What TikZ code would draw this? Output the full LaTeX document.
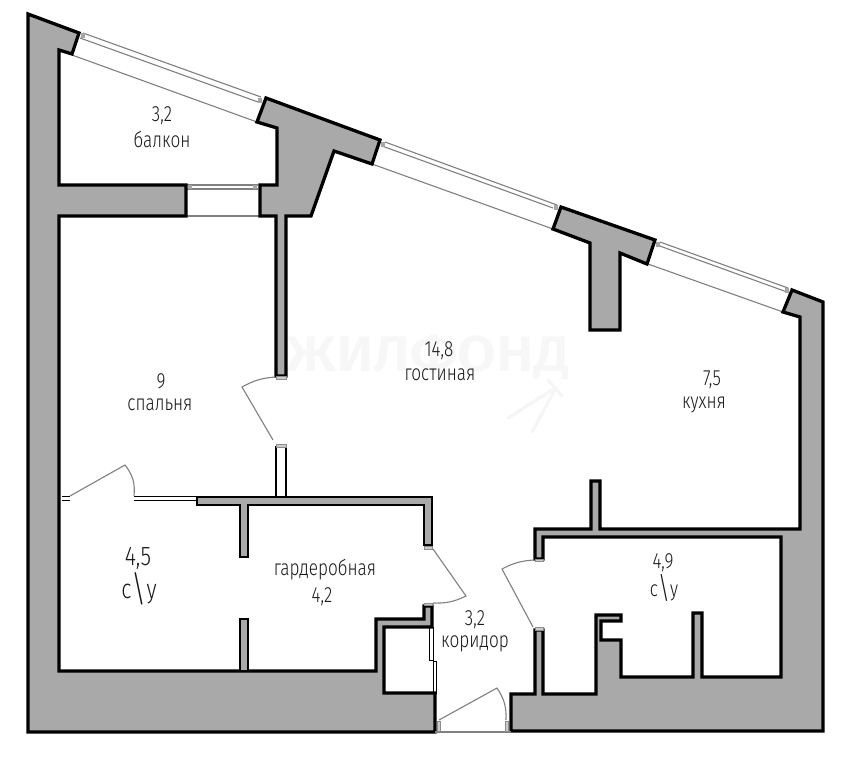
\documentclass[tikz,border=0pt]{standalone}
\usepackage{fontspec}
\setmainfont[UprightFont={* Light}]{Fira Sans}
\definecolor{wallgrey}{HTML}{A9A9A9}
\tikzset{
  wall/.style={draw=black,fill=wallgrey,line width=3.3pt,line join=miter},
  thinwall/.style={draw=black,fill=wallgrey,line width=2.8pt,line join=miter},
  opening/.style={draw=black!50,line width=1.1pt},
  fine/.style={draw=black,line width=.9pt},
  jamb/.style={draw=black!45,fill=black!20,line width=.8pt},
  lab/.style={text=black!90,font=\fontsize{22}{24}\selectfont,xscale=.78,inner sep=0pt},
  biglab/.style={text=black!90,font=\fontsize{27}{29}\selectfont,xscale=.8,inner sep=0pt}
}
\newcommand{\bigslash}[1]{\raisebox{-.1em}{\fontsize{#1}{#1}\selectfont\textbackslash}}
\begin{document}
\begin{tikzpicture}[x=1pt,y=-1pt]
\useasboundingbox (0,0) rectangle (859,768);
\fill[white] (0,0) rectangle (859,768);
% watermark
\node[inner sep=0pt,text=black!3,font=\fontsize{50}{52}\selectfont\bfseries,xscale=1.12] (wm) at (428,357) {ЖИЛФОНД};
\draw[black!4,line width=3pt,line cap=round] (508,418) -- (552,390) (532,432) -- (556,388) (548,380) -- (562,396);
% windows
\foreach \a/\b/\c/\d in {83/33/261/97, 80/38/258/102, 385/142/557/205, 382/146/553/208, 660/242/788/288, 657/245/787/292}
  \draw[opening] (\a,\b) -- (\c,\d);
\foreach \a/\b/\c/\d in {72/55/257/122, 372/164/553/229, 648/264/783/312}
  \draw[opening] (\a,\b) -- (\c,\d);
\draw[opening] (187,185) -- (258,185) (187,189) -- (258,189);
\draw[opening] (186,216) -- (260,216);
\foreach \x/\y in {83/36, 260/100, 383/144, 556/207, 658/244, 787/290}
  \fill[black!35] (\x-2,\y-2.5) rectangle (\x+2,\y+2.5);
\foreach \x in {190,255}
  \fill[black!35] (\x-2,185) rectangle (\x+2,189);
% outer walls
\path[wall] (28,14) -- (79,33) -- (72,54) -- (59,50) -- (59,185) -- (186,185) -- (186,216) -- (59,216)
  -- (59,671) -- (376,671) -- (376,619) -- (424,619) -- (424,606) -- (432,606) -- (432,627) -- (384,627)
  -- (384,693) -- (435,693) -- (435,732) -- (28,732) -- cycle;
\path[wall] (511,731) -- (511,694) -- (535,694) -- (535,630) -- (543,630) -- (543,694) -- (596,694)
  -- (596,615) -- (621,615) -- (621,621) -- (601,621) -- (601,640) -- (621,640) -- (621,677) -- (693,677)
  -- (693,613) -- (702,613) -- (702,677) -- (781,677) -- (781,537) -- (543,537) -- (543,559) -- (535,559)
  -- (535,529) -- (591,529) -- (591,481) -- (600,481) -- (600,529) -- (800,529) -- (800,317) -- (783,312)
  -- (792,290) -- (823,302) -- (823,731) -- cycle;
% pillars
\path[wall] (266,98) -- (380,140) -- (372,164) -- (334,151) -- (311,216) -- (286,216) -- (286,376)
  -- (276,376) -- (276,216) -- (260,216) -- (260,185) -- (277,185) -- (277,128) -- (257,122) -- cycle;
\path[wall] (561,207) -- (655,240) -- (647,264) -- (620,253) -- (620,330) -- (590,330) -- (590,243) -- (553,229) -- cycle;
% inner partitions
\path[thinwall,fill=white] (276,447) rectangle (286,497);
\path[thinwall] (197,497) -- (432,497) -- (432,545) -- (424,545) -- (424,505) -- (248,505) -- (248,557)
  -- (240,557) -- (240,505) -- (197,505) -- cycle;
\path[thinwall] (240,619) rectangle (248,671);
% double line partition
\draw[fine] (62,496.5) -- (70,496.5) (62,500) -- (70,500);
\draw[fine] (134,496.5) -- (197,496.5) (134,500) -- (197,500);
% closet
\draw[fine] (429,627) rectangle (433,660);
\draw[fine] (433,661) rectangle (436,693);
% doors
\draw[opening] (70,496) -- (125,465) to[bend left=22] (134,496);
\draw[opening] (275,377) to[bend right=12] (242,387) -- (273,440);
\draw[opening] (433,549) -- (466,596) to[bend left=14] (433,603);
\draw[opening] (534,560) to[bend right=12] (502,569) -- (533,627);
\draw[opening] (439,720) -- (497,688) to[bend left=18] (506,720);
\draw[opening] (435,732) -- (511,732);
% door jambs
\foreach \a/\b/\c/\d in {276/376.5/286/379, 276/444/286/447, 424/546.5/432/549, 424/603/432/605.5, 535/559.5/543/561.5, 535/627/543/630, 437/721/440/731, 505/721/508/731}
  \path[jamb] (\a,\b) rectangle (\c,\d);
% labels
\node[lab] (a1) at (162,116) {3,2};
\node[lab] (a2) at (162,139) {балкон};
\node[lab] (b1) at (161,381) {9};
\node[lab] (b2) at (160,405) {спальня};
\node[lab] (c1) at (439,351) {14,8};
\node[lab] (c2) at (440,375) {гостиная};
\node[lab] (d1) at (712,380) {7,5};
\node[lab] (d2) at (704,405) {кухня};
\node[biglab] (e1) at (138,558) {4,5};
\node[biglab] (e2) at (139,589) {с\bigslash{36}у};
\node[lab] (f1) at (325,570) {гардеробная};
\node[lab] (f2) at (322,597) {4,2};
\node[lab] (g1) at (475,620) {3,2};
\node[lab] (g2) at (475,644) {коридор};
\node[lab] (h1) at (663,563) {4,9};
\node[lab] (h2) at (664,588) {с\bigslash{30}у};
\end{tikzpicture}
\end{document}
